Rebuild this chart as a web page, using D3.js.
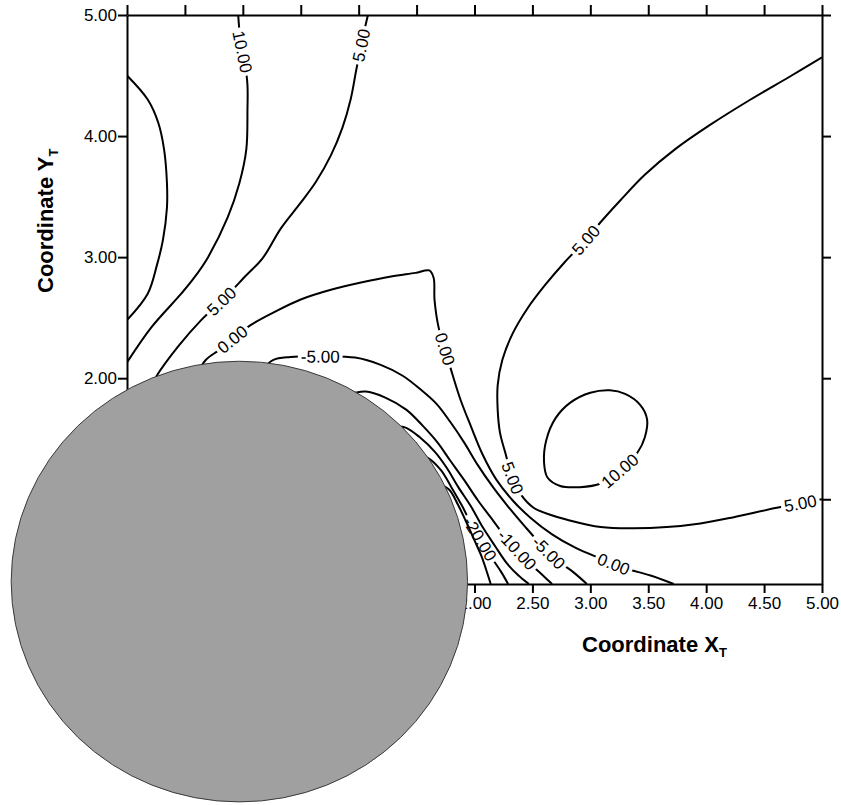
<!DOCTYPE html>
<html>
<head>
<meta charset="utf-8">
<script src="https://cdn.jsdelivr.net/npm/d3@7"></script>
<style>
body { margin: 0; background: #fff; }
svg { display: block; font-family: "Liberation Sans", Arial, sans-serif; }
</style>
</head>
<body>
<div id="chart"></div>
<script>
// tick values of the four axes
var xTicks = [-1.0, -0.5, 0.0, 0.5, 1.0, 1.5, 2.0, 2.5, 3.0, 3.5, 4.0, 4.5, 5.0];
var yTicks = [1.0, 2.0, 3.0, 4.0, 5.0];

// contour lines as [x, y] in plot units
var c15 = [[-1.00,4.50],[-0.82,4.30],[-0.73,4.11],[-0.68,3.89],[-0.655,3.61],[-0.655,3.41],[-0.69,3.14],[-0.74,2.94],[-0.82,2.70],[-1.00,2.48]];
var c10a = [[-0.04,5.00],[-0.02,4.79],[0.02,4.59],[0.04,4.42],[0.04,4.22],[0.03,3.89],[-0.03,3.61],[-0.13,3.33],[-0.30,3.00],[-0.42,2.83],[-0.53,2.70],[-0.79,2.42],[-1.00,2.13]];
var c5a = [[1.08,5.00],[1.03,4.79],[0.98,4.55],[0.93,4.30],[0.86,4.07],[0.76,3.84],[0.63,3.62],[0.50,3.45],[0.33,3.24],[0.17,2.99],[0.03,2.85],[-0.17,2.65],[-0.36,2.48],[-0.56,2.26],[-0.75,2.01],[-0.81,1.90]];
var c0 = [[-0.40,2.03],[-0.32,2.15],[-0.21,2.23],[-0.08,2.33],[0.07,2.44],[0.28,2.55],[0.50,2.65],[0.76,2.73],[1.02,2.79],[1.28,2.84],[1.49,2.87],[1.61,2.89],[1.647,2.83],[1.655,2.646],[1.69,2.42],[1.75,2.23],[1.81,2.03],[1.88,1.82],[1.97,1.60],[2.07,1.37],[2.19,1.16],[2.33,0.99],[2.48,0.85],[2.67,0.71],[2.87,0.60],[3.09,0.51],[3.30,0.43],[3.52,0.37],[3.72,0.30]];
var cm5 = [[0.17,2.07],[0.26,2.15],[0.41,2.175],[0.69,2.18],[0.97,2.17],[1.19,2.11],[1.38,2.02],[1.53,1.91],[1.67,1.79],[1.79,1.64],[1.91,1.47],[2.03,1.28],[2.16,1.10],[2.29,0.94],[2.44,0.77],[2.59,0.61],[2.72,0.49],[2.85,0.40],[2.97,0.30]];
var cm10 = [[0.89,1.86],[1.06,1.89],[1.23,1.84],[1.41,1.74],[1.55,1.61],[1.68,1.47],[1.79,1.32],[1.91,1.16],[2.03,0.99],[2.14,0.85],[2.25,0.71],[2.37,0.58],[2.48,0.47],[2.58,0.38],[2.67,0.30]];
var cm15 = [[1.28,1.61],[1.41,1.59],[1.53,1.51],[1.66,1.39],[1.76,1.26],[1.86,1.10],[1.97,0.94],[2.07,0.77],[2.18,0.61],[2.28,0.47],[2.38,0.37],[2.47,0.30]];
var cm20 = [[1.49,1.37],[1.60,1.34],[1.71,1.24],[1.80,1.10],[1.89,0.95],[1.97,0.80],[2.07,0.64],[2.16,0.50],[2.23,0.40],[2.29,0.30]];
var cm25 = [[1.68,1.13],[1.78,1.08],[1.86,0.95],[1.93,0.81],[2.00,0.66],[2.06,0.53],[2.10,0.42],[2.14,0.30]];
var c5b = [[5.00,4.65],[4.72,4.49],[4.38,4.30],[4.03,4.09],[3.73,3.89],[3.47,3.68],[3.26,3.47],[3.09,3.29],[2.96,3.14],[2.78,2.96],[2.61,2.77],[2.46,2.58],[2.33,2.37],[2.24,2.15],[2.20,1.94],[2.20,1.74],[2.22,1.55],[2.27,1.37],[2.32,1.20],[2.40,1.04],[2.51,0.93],[2.66,0.87],[2.80,0.83],[3.09,0.77],[3.37,0.76],[3.66,0.77],[3.95,0.80],[4.23,0.85],[4.61,0.93],[5.00,1.00]];
var c10loop = [[3.49,1.66],[3.43,1.78],[3.30,1.87],[3.17,1.90],[3.00,1.88],[2.83,1.80],[2.70,1.67],[2.62,1.49],[2.60,1.31],[2.63,1.18],[2.74,1.11],[2.91,1.10],[3.09,1.13],[3.26,1.24],[3.41,1.39],[3.47,1.51]];

var contours = [
    { level: 15, pts: c15 },
    { level: 10, pts: c10a },
    { level: 5, pts: c5a },
    { level: 0, pts: c0 },
    { level: -5, pts: cm5 },
    { level: -10, pts: cm10 },
    { level: -15, pts: cm15 },
    { level: -20, pts: cm20 },
    { level: -25, pts: cm25 },
    { level: 5, pts: c5b },
    { level: 10, pts: c10loop, closed: true }
];

// contour labels: text, level, and roughly where they sit
var labelText = ["10.00", "5.00", "5.00", "0.00", "-5.00", "0.00", "5.00", "5.00", "10.00", "5.00", "0.00", "-5.00", "-10.00", "-20.00"];
var labelLevel = [10, 5, 5, 0, -5, 0, 5, 5, 10, 5, 0, -5, -10, -20];
var labelAt = [[-0.02,4.69],[1.02,4.75],[-0.17,2.62],[-0.09,2.32],[0.67,2.18],[1.72,2.23],[2.96,3.14],[2.34,1.18],[3.23,1.26],[4.81,0.97],[3.20,0.46],[2.63,0.55],[2.39,0.60],[2.08,0.69]];

// the grey disc laid over the lower left
var disc = { cx: -0.03, cy: 0.32, rx: 1.97, ry: 1.82 };

var W = 841, H = 805;

var svg = d3.select("#chart")
    .append("svg")
    .attr("width", W)
    .attr("height", H);

svg.append("rect").attr("width", W).attr("height", H).attr("fill", "#fff");

var x = d3.scaleLinear().domain([-1, 5]).range([127, 822]);
var y = d3.scaleLinear().domain([0.3, 5]).range([584, 15]);

var defs = svg.append("defs");
defs.append("clipPath").attr("id", "plotclip")
    .append("rect")
    .attr("x", x(-1)).attr("y", y(5))
    .attr("width", x(5) - x(-1)).attr("height", y(0.3) - y(5));

// axes
var fmt = d3.format(".2f");

function styleAxis(g) {
    g.select(".domain").attr("stroke", "#000").attr("stroke-width", 2);
    g.selectAll(".tick line").attr("stroke", "#000").attr("stroke-width", 2);
    g.selectAll(".tick text")
        .attr("fill", "#000")
        .style("font-family", "'Liberation Sans', Arial, sans-serif")
        .style("font-size", "17px");
}

svg.append("g")
    .attr("transform", "translate(0," + y(0.3) + ")")
    .call(d3.axisBottom(x).tickValues(xTicks).tickSize(9).tickSizeOuter(0).tickPadding(4).tickFormat(fmt))
    .call(styleAxis);

svg.append("g")
    .attr("transform", "translate(0," + y(5) + ")")
    .call(d3.axisTop(x).tickValues(xTicks).tickSize(10).tickSizeOuter(0).tickFormat(""))
    .call(styleAxis);

svg.append("g")
    .attr("transform", "translate(" + x(-1) + ",0)")
    .call(d3.axisLeft(y).tickValues(yTicks).tickSize(9).tickSizeOuter(0).tickPadding(1).tickFormat(fmt))
    .call(styleAxis);

svg.append("g")
    .attr("transform", "translate(" + x(5) + ",0)")
    .call(d3.axisRight(y).tickValues(yTicks).tickSize(9).tickSizeOuter(0).tickFormat(""))
    .call(styleAxis);

// contour lines
var line = d3.line()
    .x(function (d) { return x(d[0]); })
    .y(function (d) { return y(d[1]); })
    .curve(d3.curveCatmullRom.alpha(0.5));
var loop = d3.line()
    .x(function (d) { return x(d[0]); })
    .y(function (d) { return y(d[1]); })
    .curve(d3.curveCatmullRomClosed.alpha(0.5));

var gLines = svg.append("g").attr("clip-path", "url(#plotclip)");
var gLabels = svg.append("g");

var paths = contours.map(function (c, i) {
    var mask = defs.append("mask")
        .attr("id", "cut" + i)
        .attr("maskUnits", "userSpaceOnUse")
        .attr("x", 0).attr("y", 0).attr("width", W).attr("height", H);
    mask.append("rect").attr("width", W).attr("height", H).attr("fill", "#fff");
    var p = gLines.append("path")
        .attr("d", (c.closed ? loop : line)(c.pts))
        .attr("fill", "none")
        .attr("stroke", "#000")
        .attr("stroke-width", 2)
        .attr("mask", "url(#cut" + i + ")");
    return { level: c.level, node: p.node(), mask: mask };
});

// put each label on the nearest point of a line of its level, cut a gap there
labelText.forEach(function (txt, k) {
    var px = x(labelAt[k][0]), py = y(labelAt[k][1]);
    var best = null;
    paths.forEach(function (p) {
        if (p.level !== labelLevel[k]) return;
        var L = p.node.getTotalLength();
        for (var s = 0; s <= L; s += 1) {
            var q = p.node.getPointAtLength(s);
            var d = (q.x - px) * (q.x - px) + (q.y - py) * (q.y - py);
            if (!best || d < best.d) best = { d: d, s: s, p: p, L: L };
        }
    });
    var n = best.p.node;
    var q0 = n.getPointAtLength(Math.max(0, best.s - 8));
    var q1 = n.getPointAtLength(Math.min(best.L, best.s + 8));
    var c = n.getPointAtLength(best.s);
    var a = Math.atan2(q1.y - q0.y, q1.x - q0.x) * 180 / Math.PI;
    if (a > 90) a -= 180;
    if (a < -90) a += 180;
    var tf = "translate(" + c.x + "," + c.y + ") rotate(" + a + ")";
    var t = gLabels.append("text")
        .attr("transform", tf)
        .attr("text-anchor", "middle")
        .attr("dy", "0.36em")
        .attr("font-size", "17px")
        .attr("fill", "#000")
        .text(txt);
    var w = t.node().getComputedTextLength();
    best.p.mask.append("rect")
        .attr("transform", tf)
        .attr("x", -w / 2 - 3).attr("y", -8)
        .attr("width", w + 6).attr("height", 16)
        .attr("fill", "#000");
});

// axis titles
var tx = svg.append("text")
    .attr("x", 582).attr("y", 652)
    .attr("font-size", "22px")
    .attr("font-weight", "bold")
    .text("Coordinate X");
tx.append("tspan").attr("font-size", "13px").attr("dy", "5").text("T");

var ty = svg.append("text")
    .attr("transform", "translate(53,293) rotate(-90)")
    .attr("font-size", "22px")
    .attr("font-weight", "bold")
    .text("Coordinate Y");
ty.append("tspan").attr("font-size", "13px").attr("dy", "5").text("T");

// grey disc on top
svg.append("ellipse")
    .attr("cx", x(disc.cx))
    .attr("cy", y(disc.cy))
    .attr("rx", x(disc.cx + disc.rx) - x(disc.cx))
    .attr("ry", y(disc.cy) - y(disc.cy + disc.ry))
    .attr("fill", "#a0a0a0")
    .attr("stroke", "#3a3a3a")
    .attr("stroke-width", 1);
</script>
</body>
</html>
